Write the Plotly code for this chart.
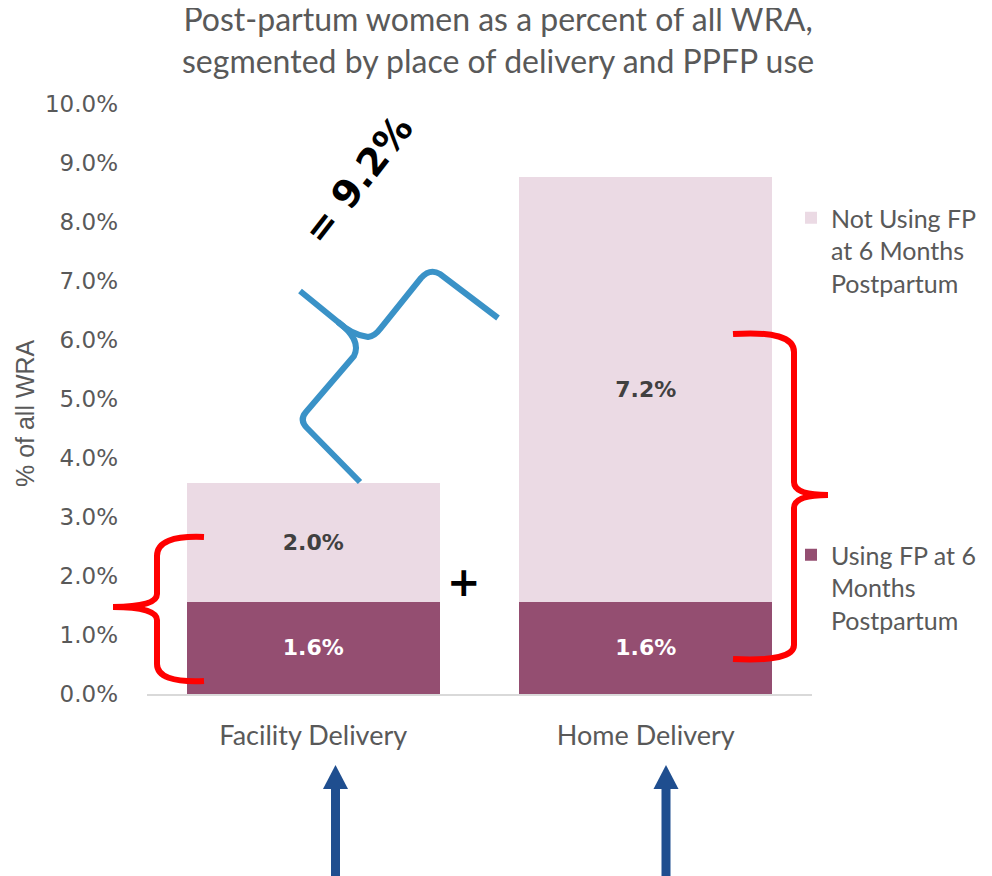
import plotly.graph_objects as go

# ---------------- data ----------------
categories = ["Facility Delivery", "Home Delivery"]
using_fp = [1.56, 1.56]          # % of all WRA, using FP at 6 months postpartum
not_using_fp = [2.02, 7.2]       # % of all WRA, not using FP at 6 months postpartum
series_names = ["Using FP at 6<br>Months<br>Postpartum",
                "Not Using FP<br>at 6 Months<br>Postpartum"]
y_ticks = [0, 1, 2, 3, 4, 5, 6, 7, 8, 9, 10]
total_label = "= 9.2%"
title_text = "Post-partum women as a percent of all WRA,<br>segmented by place of delivery and PPFP use"

# ---------------- layout geometry (screen pixels) ----------------
OFF = 8                      # default page body margin
SW, SH = 992, 876            # screen size
W, H = SW - OFF, SH - OFF    # figure size
X0, X1, Y0, Y1 = 147, 812, 104, 694   # plot area on screen
L, T = X0 - OFF, Y0 - OFF
R, B = W - (X1 - OFF), H - (Y1 - OFF)
PW, PH = X1 - X0, Y1 - Y0

def px(x):
    return (x - X0) / PW

def py(y):
    return (Y1 - y) / PH

def path(tokens):
    out = []
    for tok in tokens:
        if isinstance(tok, str):
            out.append(tok)
        else:
            out.append(f"{px(tok[0]):.5f},{py(tok[1]):.5f}")
    return " ".join(out)

GRAY = "#595959"
DARK = "#944E71"
LIGHT = "#EBDAE4"
LABEL_FONT = "Lato"

fig = go.Figure()
fig.add_trace(go.Bar(
    x=categories, y=using_fp, name=series_names[0], marker_color=DARK,
    marker_line_width=0,
    text=[f"{v:.1f}%" for v in using_fp], textposition="inside",
    insidetextanchor="middle", textangle=0,
    textfont=dict(family="DejaVu Sans", size=22, color="white", weight="bold"),
    legend="legend2",
))
fig.add_trace(go.Bar(
    x=categories, y=not_using_fp, name=series_names[1], marker_color=LIGHT,
    marker_line_width=0,
    text=[f"{v:.1f}%" for v in not_using_fp], textposition="inside",
    insidetextanchor="middle", textangle=0,
    textfont=dict(family="DejaVu Sans", size=22, color="#404040", weight="bold"),
    legend="legend",
))

fig.update_layout(
    width=W, height=H,
    margin=dict(l=L, r=R, t=T, b=B, autoexpand=False),
    barmode="stack", bargap=0.24,
    plot_bgcolor="white", paper_bgcolor="white",
    xaxis=dict(
        type="category", showgrid=False, showline=True, linecolor="#D9D9D9",
        linewidth=1.5, ticks="", ticklabelstandoff=17,
        tickfont=dict(family=LABEL_FONT, size=27, color=GRAY),
        fixedrange=True,
    ),
    yaxis=dict(
        range=[0, 10], tickvals=y_ticks,
        ticktext=[f"{v:.1f}%" for v in y_ticks],
        showgrid=False, zeroline=False, showline=False, ticks="",
        ticklabelstandoff=28,
        tickfont=dict(family="DejaVu Sans", size=23, color=GRAY),
        fixedrange=True,
    ),
    legend=dict(
        x=px(791), xanchor="left", y=py(195), yanchor="top",
        font=dict(family=LABEL_FONT, size=25, color=GRAY),
        valign="top", bgcolor="rgba(0,0,0,0)",
    ),
    legend2=dict(
        x=px(791), xanchor="left", y=py(532), yanchor="top",
        font=dict(family=LABEL_FONT, size=25, color=GRAY),
        valign="top", bgcolor="rgba(0,0,0,0)",
    ),
    showlegend=True,
)

# chart title (as an annotation for exact placement)
fig.add_annotation(
    text=title_text, xref="paper", yref="paper",
    x=px(498), y=py(40), xanchor="center", yanchor="middle", showarrow=False,
    font=dict(family=LABEL_FONT, size=32, color=GRAY),
)

# y-axis title
fig.add_annotation(
    text="% of all WRA", textangle=-90, xref="paper", yref="paper",
    x=px(25), y=py(413), xanchor="center", yanchor="middle", showarrow=False,
    font=dict(family="Liberation Sans", size=25, color=GRAY),
)

# "= 9.2%" rotated label
fig.add_annotation(
    text=f"<b>{total_label}</b>", textangle=-52, xref="paper", yref="paper",
    x=px(358), y=py(180), xanchor="center", yanchor="middle", showarrow=False,
    font=dict(family="DejaVu Sans", size=38, color="black"),
)

# "+" sign
fig.add_annotation(
    text="<b>+</b>", xref="paper", yref="paper",
    x=px(464), y=py(582), xanchor="center", yanchor="middle", showarrow=False,
    font=dict(family="DejaVu Sans", size=40, color="black"),
)

shapes = []
BLUE = "#3A92C7"
# blue brace
shapes.append(dict(type="path", xref="paper", yref="paper", layer="above",
    path=path(["M", (300, 291), "L", (338, 322), "Q", (352, 335), (368, 337),
               "Q", (375, 336), (380, 329), "L", (421, 278),
               "Q", (430, 268), (440, 274), "L", (498, 318)]),
    line=dict(color=BLUE, width=6)))
shapes.append(dict(type="path", xref="paper", yref="paper", layer="above",
    path=path(["M", (338, 322), "Q", (362, 340), (354, 356), "L", (306, 412),
               "Q", (299, 420), (307, 428), "L", (360, 482)]),
    line=dict(color=BLUE, width=6)))

RED = "#FF0000"
# left red brace
shapes.append(dict(type="path", xref="paper", yref="paper", layer="above",
    path=path(["M", (204, 537), "Q", (157, 535), (157, 556), "L", (157, 594),
               "Q", (157, 607), (113, 607), "Q", (157, 607), (157, 620),
               "L", (157, 664), "Q", (157, 683), (204, 681)]),
    line=dict(color=RED, width=6)))
# right red brace
shapes.append(dict(type="path", xref="paper", yref="paper", layer="above",
    path=path(["M", (733, 334), "Q", (794, 330), (794, 352), "L", (794, 482),
               "Q", (794, 495), (828, 495), "Q", (794, 495), (794, 508),
               "L", (794, 645), "Q", (794, 662), (733, 659)]),
    line=dict(color=RED, width=6)))

# blue arrows under the category labels
NAVY = "#1F4E8F"
for ax in (335.5, 666):
    shapes.append(dict(type="line", xref="paper", yref="paper", layer="above",
        x0=px(ax), x1=px(ax), y0=py(880), y1=py(786),
        line=dict(color=NAVY, width=9)))
    shapes.append(dict(type="path", xref="paper", yref="paper", layer="above",
        path=path(["M", (ax - 12.5, 789), "L", (ax + 12.5, 789), "L", (ax, 765), "Z"]),
        fillcolor=NAVY, line=dict(color=NAVY, width=0)))

fig.update_layout(shapes=shapes)

fig.write_html("out.html")
